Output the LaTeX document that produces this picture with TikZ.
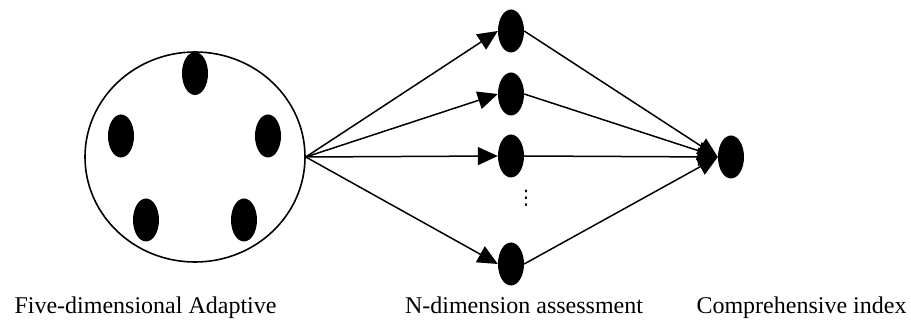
\documentclass[tikz,border=0pt]{standalone}
\usepackage{fontspec}
\setmainfont{Liberation Serif}
\newfontfamily\symfont{DejaVu Sans}
\usetikzlibrary{shapes.geometric,arrows.meta}

\begin{document}
\begin{tikzpicture}[
  x=1pt, y=-1pt,
  group/.style={draw, ellipse, line width=1.6pt, minimum width=220pt, minimum height=210pt},
  dot/.style={ellipse, fill=black, inner sep=0pt, minimum width=26pt, minimum height=43pt},
  link/.style={line width=1.5pt, -{Triangle[length=20pt,width=18pt]}},
  caption/.style={anchor=base, font=\fontsize{24}{28}\selectfont}
]
\useasboundingbox (0,0) rectangle (911,323);

% five-dimensional group
\node[group] (adapt) at (195,157) {};
\node[dot] (a1) at (195,73.5) {};
\node[dot] (a2) at (121,136) {};
\node[dot] (a3) at (268,136) {};
\node[dot] (a4) at (146,220) {};
\node[dot] (a5) at (244,220) {};

% n-dimension assessment
\node[dot] (d1) at (511,31) {};
\node[dot] (d2) at (511,94) {};
\node[dot] (d3) at (511,156) {};
\node[dot] (d4) at (511,264) {};
\node[inner sep=0pt, font=\symfont\fontsize{20}{20}\selectfont] (vdots) at (526,198) {⋮};

% comprehensive index
\node[dot] (index) at (731,157) {};

\foreach \d in {d1,d2,d3,d4} {
  \draw[link] (adapt.east) -- (\d.west);
  \draw[link] (\d.east) -- (index.west);
}

\node[caption] (lab1) at (145.5,313) {Five-dimensional Adaptive};
\node[caption] (lab2) at (524,313) {N-dimension assessment};
\node[caption] (lab3) at (801.5,313) {Comprehensive index};
\end{tikzpicture}
\end{document}
